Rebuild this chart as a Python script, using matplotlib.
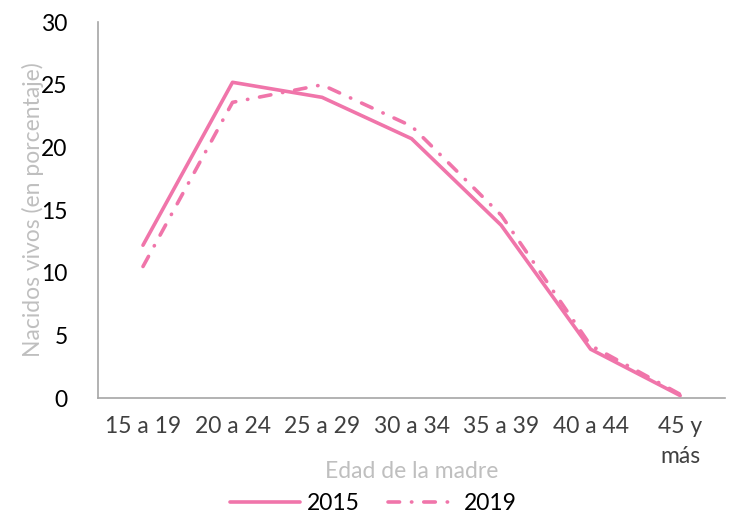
import numpy as np
import matplotlib.pyplot as plt

plt.rcParams['font.family'] = ['Lato', 'DejaVu Sans']

grupos = ['15 a 19', '20 a 24', '25 a 29', '30 a 34', '35 a 39', '40 a 44', '45 y\nmás']
v2015 = [12.2, 25.2, 24.0, 20.7, 13.8, 3.9, 0.2]
v2019 = [10.5, 23.6, 25.0, 21.7, 14.6, 4.2, 0.3]

rosa = '#F075AA'
gris = '#BFBFBF'

fig = plt.figure(figsize=(7.33, 5.15), dpi=100)
ax = fig.add_axes([0.134, 0.227, 0.855, 0.73])

x = np.arange(len(grupos))
ax.plot(x, v2015, color=rosa, linewidth=2.6, label='2015', solid_capstyle='round')
ax.plot(x, v2019, color=rosa, linewidth=2.6, linestyle=(0, (3.2, 3.3, 0.1, 3.3)),
        dash_capstyle='round', label='2019')

ax.set_xlim(-0.5, 6.5)
ax.set_ylim(0, 30)
ax.set_yticks(np.arange(0, 31, 5))
ax.set_xticks(x)
ax.set_xticklabels(grupos, va='top', linespacing=1.5)
ax.tick_params(axis='both', length=0, labelsize=16.5, colors='#404040')
ax.tick_params(axis='y', pad=22, labelcolor='black')
ax.tick_params(axis='x', pad=13)

for s in ['top', 'right']:
    ax.spines[s].set_visible(False)
for s in ['left', 'bottom']:
    ax.spines[s].set_color('#A6A6A6')
    ax.spines[s].set_linewidth(1.2)

ax.set_ylabel('Nacidos vivos (en porcentaje)', color=gris, fontsize=16.5)
ax.yaxis.set_label_coords(-0.087, 0.5)
ax.set_xlabel('Edad de la madre', color=gris, fontsize=16.5, va='center')
ax.xaxis.set_label_coords(0.5, -0.195)

fig.legend(loc='center', bbox_to_anchor=(0.51, 0.023), ncol=2, frameon=False,
           fontsize=16.5, handlelength=3.05, columnspacing=1.2, handletextpad=0.3,
           borderpad=0, borderaxespad=0)

fig.savefig('out.png', dpi=100)
